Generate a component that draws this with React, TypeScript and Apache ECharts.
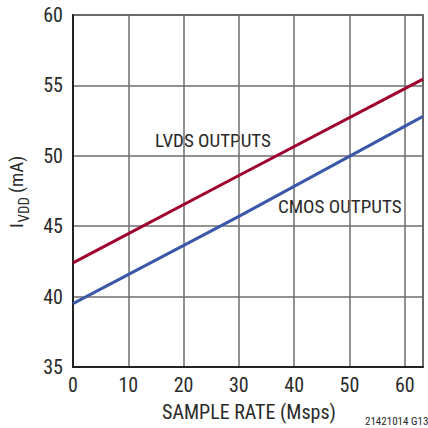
import React, { useEffect, useRef } from "react";
import * as echarts from "echarts";

// Data
const sampleRate = [0, 30, 63.3]; // Msps
const lvdsCurrent = [42.4, 48.6, 55.45]; // mA
const cmosCurrent = [39.5, 45.7, 52.8]; // mA

const xTicks = [0, 10, 20, 30, 40, 50, 60];
const yTicks = [35, 40, 45, 50, 55, 60];

const seriesNames = ["LVDS OUTPUTS", "CMOS OUTPUTS"];
const xAxisTitle = "SAMPLE RATE (Msps)";
const yAxisTitleMain = "I";
const yAxisTitleSub = "VDD";
const yAxisTitleUnit = "(mA)";
const figureCode = "21421014 G13";

const FONT = "'Roboto Condensed', 'DejaVu Sans Condensed', sans-serif";
const TEXT = "#2a2a2a";

export default function App() {
  const ref = useRef<HTMLDivElement>(null);
  useEffect(() => {
    if (!ref.current) return;
    const chart = echarts.init(ref.current, undefined, { renderer: "svg" });
    const pairs = (ys: number[]) => sampleRate.map((x, i) => [x, ys[i]]);
    chart.setOption({
      animation: false,
      backgroundColor: "#ffffff",
      textStyle: { fontFamily: FONT },
      grid: {
        left: 73,
        top: 15,
        right: 5,
        bottom: 61,
        show: true,
        borderColor: "#2a2a2a",
        borderWidth: 1.5,
      },
      xAxis: {
        type: "value",
        min: xTicks[0],
        max: sampleRate[sampleRate.length - 1],
        interval: 10,
        axisLine: { show: true, lineStyle: { color: "#222", width: 2 } },
        axisTick: { show: false },
        splitLine: { show: true, lineStyle: { color: "#6e6e6e", width: 1.5 } },
        axisLabel: {
          color: TEXT,
          fontSize: 20,
          fontFamily: FONT,
          margin: 8,
          showMaxLabel: false,
          formatter: (v: number) => (xTicks.includes(v) ? String(v) : ""),
        },
      },
      yAxis: {
        type: "value",
        min: yTicks[0],
        max: yTicks[yTicks.length - 1],
        interval: 5,
        axisLine: { show: true, lineStyle: { color: "#222", width: 2 } },
        axisTick: { show: false },
        splitLine: { show: true, lineStyle: { color: "#6e6e6e", width: 1.5 } },
        axisLabel: {
          color: TEXT,
          fontSize: 20,
          fontFamily: FONT,
          margin: 10,
        },
      },
      series: [
        {
          name: seriesNames[0],
          type: "line",
          data: pairs(lvdsCurrent),
          showSymbol: false,
          symbol: "none",
          lineStyle: { color: "#a0002e", width: 3 },
          z: 3,
        },
        {
          name: seriesNames[1],
          type: "line",
          data: pairs(cmosCurrent),
          showSymbol: false,
          symbol: "none",
          lineStyle: { color: "#3a57a8", width: 3 },
          z: 3,
        },
      ],
      graphic: [
        {
          type: "text",
          left: 155,
          top: 131,
          style: { text: seriesNames[0], fill: TEXT, font: `19px ${FONT}` },
        },
        {
          type: "text",
          left: 278,
          top: 197,
          style: { text: seriesNames[1], fill: TEXT, font: `19px ${FONT}` },
        },
        {
          type: "text",
          x: 249,
          y: 411.5,
          style: {
            text: xAxisTitle,
            fill: TEXT,
            font: `20px ${FONT}`,
            align: "center",
            verticalAlign: "middle",
          },
        },
        {
          type: "text",
          x: 365,
          y: 421,
          style: {
            text: figureCode,
            fill: TEXT,
            font: `11px ${FONT}`,
            align: "left",
            verticalAlign: "middle",
          },
        },
        {
          type: "text",
          x: 16.5,
          y: 228,
          rotation: Math.PI / 2,
          style: {
            text: yAxisTitleMain,
            fill: TEXT,
            font: `19px ${FONT}`,
            align: "left",
            verticalAlign: "middle",
          },
        },
        {
          type: "text",
          x: 24,
          y: 222.5,
          rotation: Math.PI / 2,
          style: {
            text: yAxisTitleSub,
            fill: TEXT,
            font: `15px ${FONT}`,
            align: "left",
            verticalAlign: "middle",
          },
        },
        {
          type: "text",
          x: 16.5,
          y: 193,
          rotation: Math.PI / 2,
          style: {
            text: yAxisTitleUnit,
            fill: TEXT,
            font: `19px ${FONT}`,
            align: "left",
            verticalAlign: "middle",
          },
        },
      ],
    });
    return () => chart.dispose();
  }, []);
  return (
    <div
      ref={ref}
      style={{ position: "fixed", left: 0, top: 0, width: 428, height: 428 }}
    />
  );
}
